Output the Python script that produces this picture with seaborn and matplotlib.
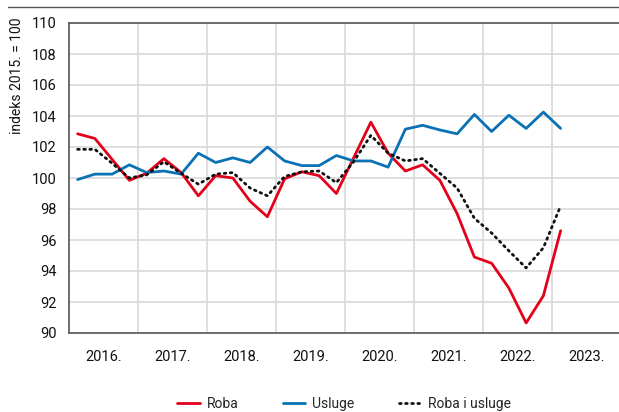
import numpy as np
import pandas as pd
import matplotlib
matplotlib.use("Agg")
import matplotlib.pyplot as plt
from matplotlib.lines import Line2D
import seaborn as sns

# quarterly index values, 2016 Q1 - 2023 Q1
years = [2016, 2017, 2018, 2019, 2020, 2021, 2022, 2023]
year_labels = ["2016.", "2017.", "2018.", "2019.", "2020.", "2021.", "2022.", "2023."]
quarters = [f"{y} Q{q}" for y in years for q in range(1, 5)][:29]

roba = [102.85, 102.55, 101.2, 99.85,
        100.3, 101.25, 100.35, 98.85,
        100.15, 100.0, 98.5, 97.5,
        99.95, 100.4, 100.15, 99.0,
        101.3, 103.6, 101.6, 100.45,
        100.85, 99.85, 97.7, 94.9,
        94.5, 92.9, 90.65, 92.4,
        96.6]
usluge = [99.9, 100.25, 100.25, 100.85,
          100.35, 100.45, 100.25, 101.6,
          101.0, 101.3, 101.0, 102.0,
          101.1, 100.8, 100.8, 101.45,
          101.1, 101.1, 100.7, 103.15,
          103.4, 103.1, 102.85, 104.1,
          103.0, 104.05, 103.2, 104.25,
          103.2]
ukupno = [101.85, 101.85, 100.95, 100.0,
          100.2, 101.05, 100.3, 99.6,
          100.25, 100.35, 99.35, 98.85,
          100.1, 100.4, 100.45, 99.7,
          101.05, 102.75, 101.6, 101.1,
          101.25, 100.3, 99.35, 97.4,
          96.45, 95.3, 94.2, 95.5,
          98.2]

series_names = ["Roba", "Usluge", "Roba i usluge"]
colors = ["#e3001b", "#0a72b4", "#111111"]

# position of each quarter as fractional year (middle of the quarter)
xpos = [int(q[:4]) + (int(q[-1]) - 0.5) / 4 for q in quarters]

df = pd.DataFrame({"x": xpos, "Roba": roba, "Usluge": usluge, "Roba i usluge": ukupno})
long_df = df.melt(id_vars="x", var_name="serija", value_name="indeks")

sns.set_style("white")
plt.rcParams["font.family"] = ["Liberation Sans Narrow", "Roboto", "DejaVu Sans"]

fig = plt.figure(figsize=(6.19, 4.12), dpi=100)
ax = fig.add_axes([69 / 619, 1 - 333 / 412, 550 / 619, 310 / 412])

sns.lineplot(data=long_df, x="x", y="indeks", hue="serija", style="serija",
             hue_order=series_names, style_order=series_names,
             palette=dict(zip(series_names, colors)),
             dashes={"Roba": "", "Usluge": "", "Roba i usluge": (0.6, 1.6)},
             linewidth=2.0, ax=ax, legend=False)
for ln in ax.get_lines():
    ln.set_dash_capstyle("round")

ax.set_xlim(2016, 2016 + 550 / 69)
ax.set_ylim(90, 110)
ax.set_yticks(np.arange(90, 111, 2))
ax.set_xticks([y + 0.5 for y in years])
ax.set_xticklabels(year_labels)
ax.set_xticks(years[1:], minor=True)
ax.grid(False)
ax.grid(axis="y", which="major", color="#d9d9d9", linewidth=1.2, zorder=0)
ax.grid(axis="x", which="minor", color="#d9d9d9", linewidth=1.2, zorder=0)
ax.set_axisbelow(True)
ax.tick_params(axis="both", which="both", length=0, labelsize=10.5, colors="#111111")
ax.tick_params(axis="x", pad=12)
ax.tick_params(axis="y", pad=9)

for side in ["left", "bottom", "top"]:
    ax.spines[side].set_color("#555555")
    ax.spines[side].set_linewidth(1.2)
ax.spines["right"].set_visible(False)

ax.set_xlabel("")
ax.set_ylabel("indeks 2015. = 100", fontsize=10, color="#111111")
ax.yaxis.set_label_coords(-0.082, 0.83)

handles = [Line2D([], [], color=colors[0], lw=2.0),
           Line2D([], [], color=colors[1], lw=2.0),
           Line2D([], [], color=colors[2], lw=2.0, dashes=(0.6, 1.6), dash_capstyle="round")]
ax.legend(handles, series_names, loc="center", bbox_to_anchor=(0.5, -0.23), ncol=3,
          frameon=False, fontsize=10, handlelength=1.6, handletextpad=0.5,
          columnspacing=3.2)

# thin rule at the very top of the figure
fig.add_artist(Line2D([8 / 619, 1], [1 - 7 / 412, 1 - 7 / 412], color="#555555", lw=1.0))

fig.savefig("out.png", dpi=100)
